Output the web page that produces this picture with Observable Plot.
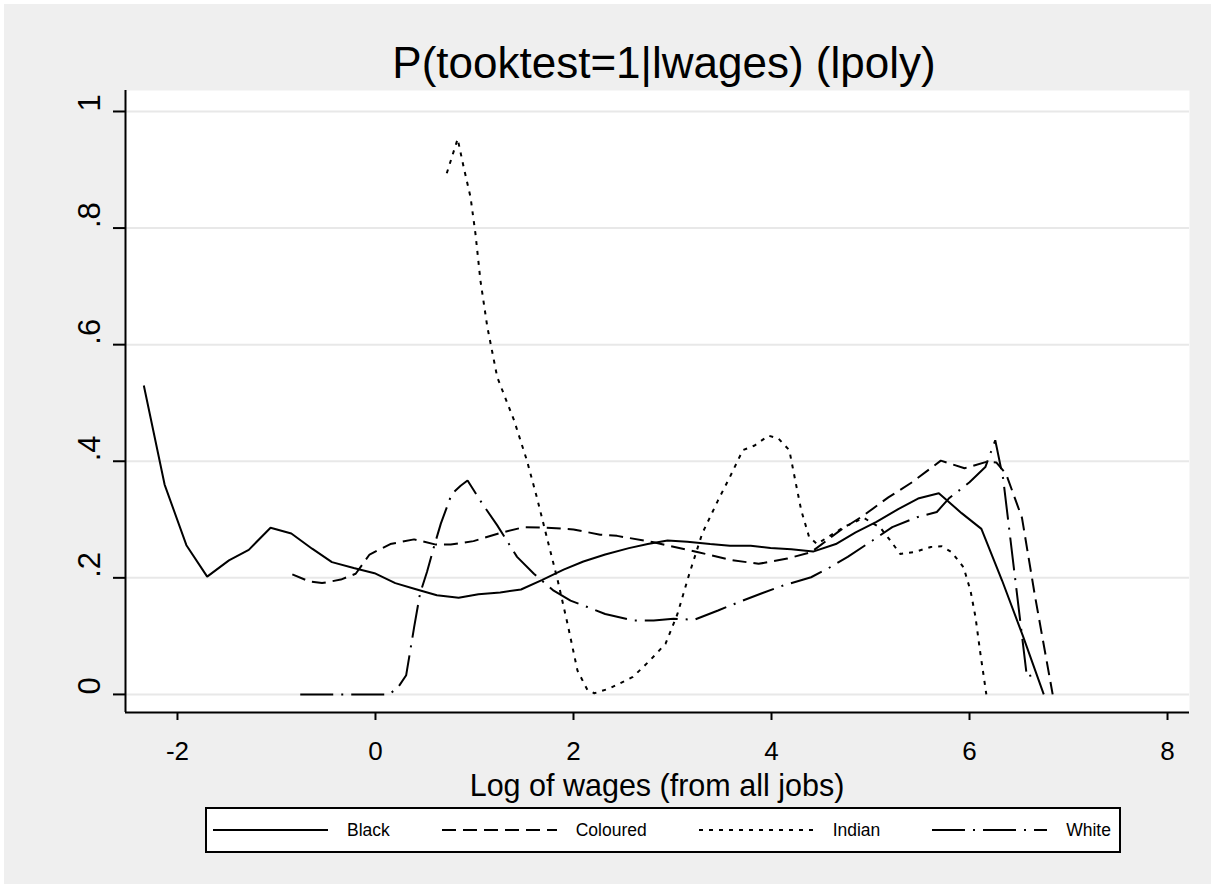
<!DOCTYPE html>
<html>
<head>
<meta charset="utf-8">
<script src="https://cdn.jsdelivr.net/npm/d3@7"></script>
<script src="https://cdn.jsdelivr.net/npm/@observablehq/plot@0.6"></script>
<style>
  html, body { margin: 0; padding: 0; background: #ffffff; }
  #wrap { position: relative; width: 1215px; height: 888px; overflow: hidden;
          font-family: "Liberation Sans", Arial, Helvetica, sans-serif; color: #000; }
  #bg { position: absolute; left: 4px; top: 4px; width: 1207px; height: 880px; background: #efefef; }
  #chart { position: absolute; left: 0; top: 0; }
  #title { position: absolute; left: 125px; width: 1078px; top: 41px; text-align: center;
           font-size: 44px; line-height: 44px; white-space: nowrap; }
  #xlabel { position: absolute; left: 125px; width: 1064px; top: 773.5px; text-align: center;
            font-size: 30.5px; line-height: 22px; white-space: nowrap; }
  #legend { position: absolute; left: 205px; top: 807px; width: 898px; height: 42px;
            border: 2px solid #000; background: #fff; display: flex; align-items: center;
            justify-content: space-between; padding: 0 8px 0 6px; box-sizing: content-box; }
  .item { display: flex; align-items: center; font-size: 17.5px; }
  .item svg { margin-right: 19px; }
</style>
</head>
<body>
<div id="wrap">
  <div id="bg"></div>
  <div id="chart"></div>
  <div id="title"></div>
  <div id="xlabel"></div>
  <div id="legend"></div>
</div>
<script>
// ---- data ----
const titleText = "P(tooktest=1|lwages) (lpoly)";
const xTitle = "Log of wages (from all jobs)";
const xTicks = [-2, 0, 2, 4, 6, 8];
const yTicks = [0, 0.2, 0.4, 0.6, 0.8, 1];
const yTickLabels = ["0", ".2", ".4", ".6", ".8", "1"];
const seriesNames = ["Black", "Coloured", "Indian", "White"];

const black = [[-2.34,0.53],[-2.13,0.36],[-1.91,0.256],[-1.70,0.202],[-1.48,0.23],[-1.28,0.248],[-1.06,0.286],[-0.85,0.276],[-0.64,0.25],[-0.44,0.227],[-0.22,0.217],[-0.01,0.208],[0.20,0.191],[0.40,0.181],[0.62,0.170],[0.84,0.166],[1.04,0.172],[1.26,0.175],[1.47,0.180],[1.68,0.196],[1.90,0.214],[2.10,0.228],[2.32,0.240],[2.56,0.251],[2.75,0.258],[2.95,0.264],[3.15,0.262],[3.38,0.258],[3.58,0.255],[3.79,0.255],[3.99,0.251],[4.20,0.249],[4.42,0.245],[4.65,0.258],[4.85,0.278],[5.06,0.296],[5.28,0.318],[5.48,0.336],[5.69,0.345],[5.92,0.311],[6.12,0.284],[6.33,0.195],[6.54,0.10],[6.75,0]];

const coloured = [[-0.84,0.206],[-0.67,0.194],[-0.54,0.191],[-0.35,0.197],[-0.20,0.207],[-0.06,0.240],[0.15,0.258],[0.39,0.266],[0.61,0.257],[0.76,0.257],[0.99,0.263],[1.26,0.277],[1.50,0.287],[1.73,0.286],[2.00,0.283],[2.27,0.274],[2.44,0.272],[2.81,0.261],[3.26,0.244],[3.58,0.231],[3.87,0.224],[4.16,0.233],[4.40,0.244],[4.69,0.281],[4.93,0.307],[5.18,0.338],[5.42,0.364],[5.71,0.401],[5.95,0.388],[6.17,0.399],[6.27,0.398],[6.37,0.378],[6.53,0.303],[6.66,0.17],[6.84,0]];

const indian = [[0.72,0.894],[0.83,0.953],[0.89,0.905],[0.96,0.853],[1.01,0.79],[1.06,0.71],[1.13,0.63],[1.23,0.544],[1.40,0.47],[1.53,0.401],[1.63,0.338],[1.73,0.27],[1.84,0.196],[1.94,0.121],[2.04,0.041],[2.14,0.008],[2.21,0.002],[2.36,0.01],[2.60,0.03],[2.77,0.058],[2.93,0.087],[3.05,0.138],[3.17,0.207],[3.30,0.276],[3.46,0.333],[3.58,0.373],[3.71,0.419],[3.83,0.427],[3.97,0.444],[4.07,0.439],[4.18,0.419],[4.24,0.367],[4.30,0.316],[4.38,0.27],[4.46,0.258],[4.57,0.27],[4.73,0.287],[4.93,0.303],[5.10,0.286],[5.20,0.264],[5.30,0.241],[5.44,0.244],[5.61,0.253],[5.72,0.254],[5.82,0.244],[5.94,0.218],[6.01,0.178],[6.06,0.133],[6.11,0.07],[6.17,0]];

const white = [[-0.76,0],[-0.55,0],[-0.34,0],[-0.13,0],[0.13,0],[0.22,0.01],[0.31,0.033],[0.39,0.115],[0.45,0.173],[0.52,0.21],[0.59,0.253],[0.66,0.293],[0.77,0.344],[0.86,0.358],[0.93,0.367],[1.08,0.327],[1.23,0.29],[1.43,0.236],[1.60,0.207],[1.80,0.178],[1.97,0.161],[2.14,0.150],[2.32,0.138],[2.60,0.127],[2.81,0.127],[3.01,0.13],[3.22,0.128],[3.46,0.144],[3.71,0.161],[3.91,0.174],[4.12,0.187],[4.40,0.201],[4.57,0.216],[4.77,0.236],[5.02,0.264],[5.22,0.287],[5.47,0.304],[5.67,0.313],[5.79,0.336],[6.00,0.364],[6.16,0.39],[6.26,0.436],[6.34,0.37],[6.58,0.03],[6.66,0.035]];

// ---- styles ----
const dashes = { Black: null, Coloured: "14,7", Indian: "4,6", White: "33,8,2,8" };
const seriesData = { Black: black, Coloured: coloured, Indian: indian, White: white };
const xDomain = [-2.525, 8.222];
const yDomain = [-0.031, 1.036];

const lineMarks = seriesNames.map(name =>
  Plot.line(seriesData[name], {
    x: d => d[0], y: d => d[1],
    stroke: "#000", strokeWidth: 2,
    strokeDasharray: dashes[name] || undefined,
    strokeLinejoin: "miter", strokeLinecap: "butt"
  })
);

const chart = Plot.plot({
  width: 1215,
  height: 888,
  marginLeft: 125,
  marginRight: 26,
  marginTop: 90,
  marginBottom: 176,
  style: { background: "transparent", fontFamily: "Liberation Sans, Arial, Helvetica, sans-serif", color: "#000", overflow: "visible" },
  x: { domain: xDomain },
  y: { domain: yDomain },
  marks: [
    Plot.frame({ fill: "#ffffff", stroke: "none" }),
    Plot.ruleY(yTicks, { y: d => d, stroke: "#e8e8e8", strokeWidth: 2 }),
    ...lineMarks,
    Plot.ruleX([xDomain[0]], { stroke: "#000", strokeWidth: 2 }),
    Plot.ruleY([yDomain[0]], { stroke: "#000", strokeWidth: 2 }),
    Plot.axisX({ ticks: xTicks, tickSize: 8, tickPadding: 21, strokeWidth: 2, fontSize: 26, label: null, tickFormat: d => String(d) }),
    Plot.axisY({ ticks: yTicks, tickSize: 12, strokeWidth: 2, label: null, tickFormat: () => "" }),
    Plot.text(yTicks, { y: d => d, text: (d, i) => yTickLabels[i], frameAnchor: "left", dx: -35, rotate: -90, fontSize: 31, fill: "#000" })
  ]
});
document.getElementById("chart").appendChild(chart);

document.getElementById("title").textContent = titleText;
document.getElementById("xlabel").textContent = xTitle;

const legend = document.getElementById("legend");
for (const name of seriesNames) {
  const item = document.createElement("div");
  item.className = "item";
  const dash = dashes[name] ? ` stroke-dasharray="${dashes[name]}"` : "";
  item.innerHTML = `<svg width="115" height="6"><line x1="0" y1="3" x2="115" y2="3" stroke="#000" stroke-width="2"${dash}/></svg><span>${name}</span>`;
  legend.appendChild(item);
}
</script>
</body>
</html>
